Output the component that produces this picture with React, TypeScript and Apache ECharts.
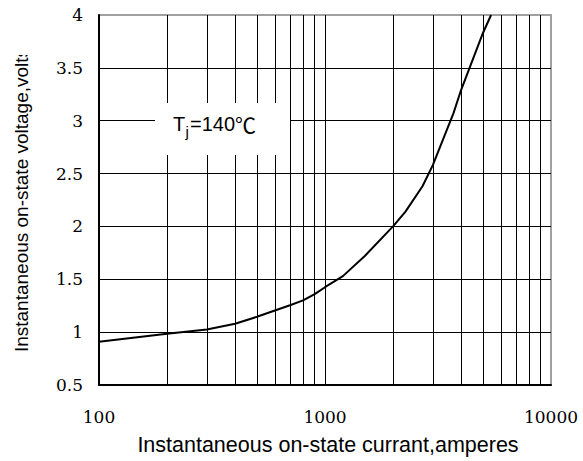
import React, { useEffect, useRef } from "react";
import * as echarts from "echarts";

// Forward characteristic, Tj = 140 °C
const currents = [100, 200, 300, 400, 500, 600, 700, 800, 900, 1000, 1200, 1500, 2000, 2270, 2700, 3000, 3700, 4000, 5000, 5430];
const voltages = [0.91, 0.985, 1.025, 1.08, 1.145, 1.205, 1.255, 1.3, 1.36, 1.425, 1.53, 1.72, 2.0, 2.14, 2.38, 2.58, 3.07, 3.29, 3.83, 4.0];

// grid lines
const xGridValues = [200, 300, 400, 500, 600, 700, 800, 900, 1000, 2000, 3000, 4000, 5000, 6000, 7000, 8000, 9000];
const yGridValues = [1, 1.5, 2, 2.5, 3, 3.5];

const xName = "Instantaneous on-state currant,amperes";
const yName = "Instantaneous on-state voltage,volts";

export default function App() {
  const ref = useRef<HTMLDivElement>(null);
  useEffect(() => {
    if (!ref.current) return;
    const chart = echarts.init(ref.current, null, { renderer: "svg" });
    const tickFont = { fontFamily: "DejaVu Serif", fontSize: 17, color: "#000" };
    chart.setOption({
      animation: false,
      backgroundColor: "#fff",
      grid: {
        left: 99,
        right: 32,
        top: 15,
        bottom: 75,
        show: true,
        borderColor: "#a0a0a0",
        borderWidth: 2,
        backgroundColor: "transparent",
      },
      xAxis: {
        type: "log",
        logBase: 10,
        min: 100,
        max: 10000,
        name: xName,
        nameLocation: "middle",
        nameGap: 49,
        nameTextStyle: { fontFamily: "Liberation Sans", fontSize: 21.5, color: "#000", padding: [0, 0, 0, 6] },
        axisLine: { show: true, lineStyle: { color: "#000", width: 2 } },
        axisTick: { show: false },
        splitLine: { show: false },
        minorSplitLine: { show: false },
        axisLabel: { ...tickFont, margin: 23, formatter: (v: number) => String(v) },
      },
      yAxis: {
        type: "value",
        min: 0.5,
        max: 4,
        interval: 0.5,
        name: yName,
        nameLocation: "middle",
        nameRotate: 90,
        nameGap: 68,
        nameTextStyle: { fontFamily: "Liberation Sans", fontSize: 19, color: "#000" },
        axisLine: { show: true, lineStyle: { color: "#000", width: 2 } },
        axisTick: { show: false },
        splitLine: { show: false },
        axisLabel: { ...tickFont, margin: 16, padding: [7, 0, 0, 0], formatter: (v: number) => String(v) },
      },
      series: [
        {
          type: "line",
          data: currents.map((c, i) => [c, voltages[i]]),
          showSymbol: false,
          symbol: "none",
          smooth: false,
          lineStyle: { color: "#000", width: 2 },
          silent: true,
          markLine: {
            silent: true,
            symbol: ["none", "none"],
            label: { show: false },
            lineStyle: { color: "#000", width: 1, type: "solid" },
            emphasis: { disabled: true },
            data: [
              ...xGridValues.map((v) => ({ xAxis: v })),
              ...yGridValues.map((v) => ({ yAxis: v })),
            ],
          },
        },
      ],
      graphic: [
        {
          type: "rect",
          z: 100,
          shape: { x: 155, y: 103, width: 135, height: 52 },
          style: { fill: "#fff" },
          silent: true,
        },
        {
          type: "text",
          z: 101,
          x: 173,
          y: 124,
          style: { text: "T", fontFamily: "Liberation Sans", fontSize: 20, fill: "#000", verticalAlign: "middle", align: "left" },
        },
        {
          type: "text",
          z: 101,
          x: 185.5,
          y: 131,
          style: { text: "j", fontFamily: "Liberation Sans", fontSize: 15, fill: "#000", verticalAlign: "middle", align: "left" },
        },
        {
          type: "text",
          z: 101,
          x: 190,
          y: 124,
          style: { text: "=140", fontFamily: "Liberation Sans", fontSize: 20, fill: "#000", verticalAlign: "middle", align: "left" },
        },
        {
          type: "text",
          z: 101,
          x: 235,
          y: 124,
          style: { text: "℃", fontFamily: "Noto Sans CJK SC", fontSize: 21, fill: "#000", verticalAlign: "middle", align: "left" },
        },
        {
          type: "rect",
          z: 100,
          shape: { x: 0, y: 0, width: 45, height: 55 },
          style: { fill: "#fff" },
          silent: true,
        },
      ],
    });
    return () => chart.dispose();
  }, []);
  return <div ref={ref} style={{ position: "fixed", left: 0, top: 0, width: 583, height: 461 }} />;
}
